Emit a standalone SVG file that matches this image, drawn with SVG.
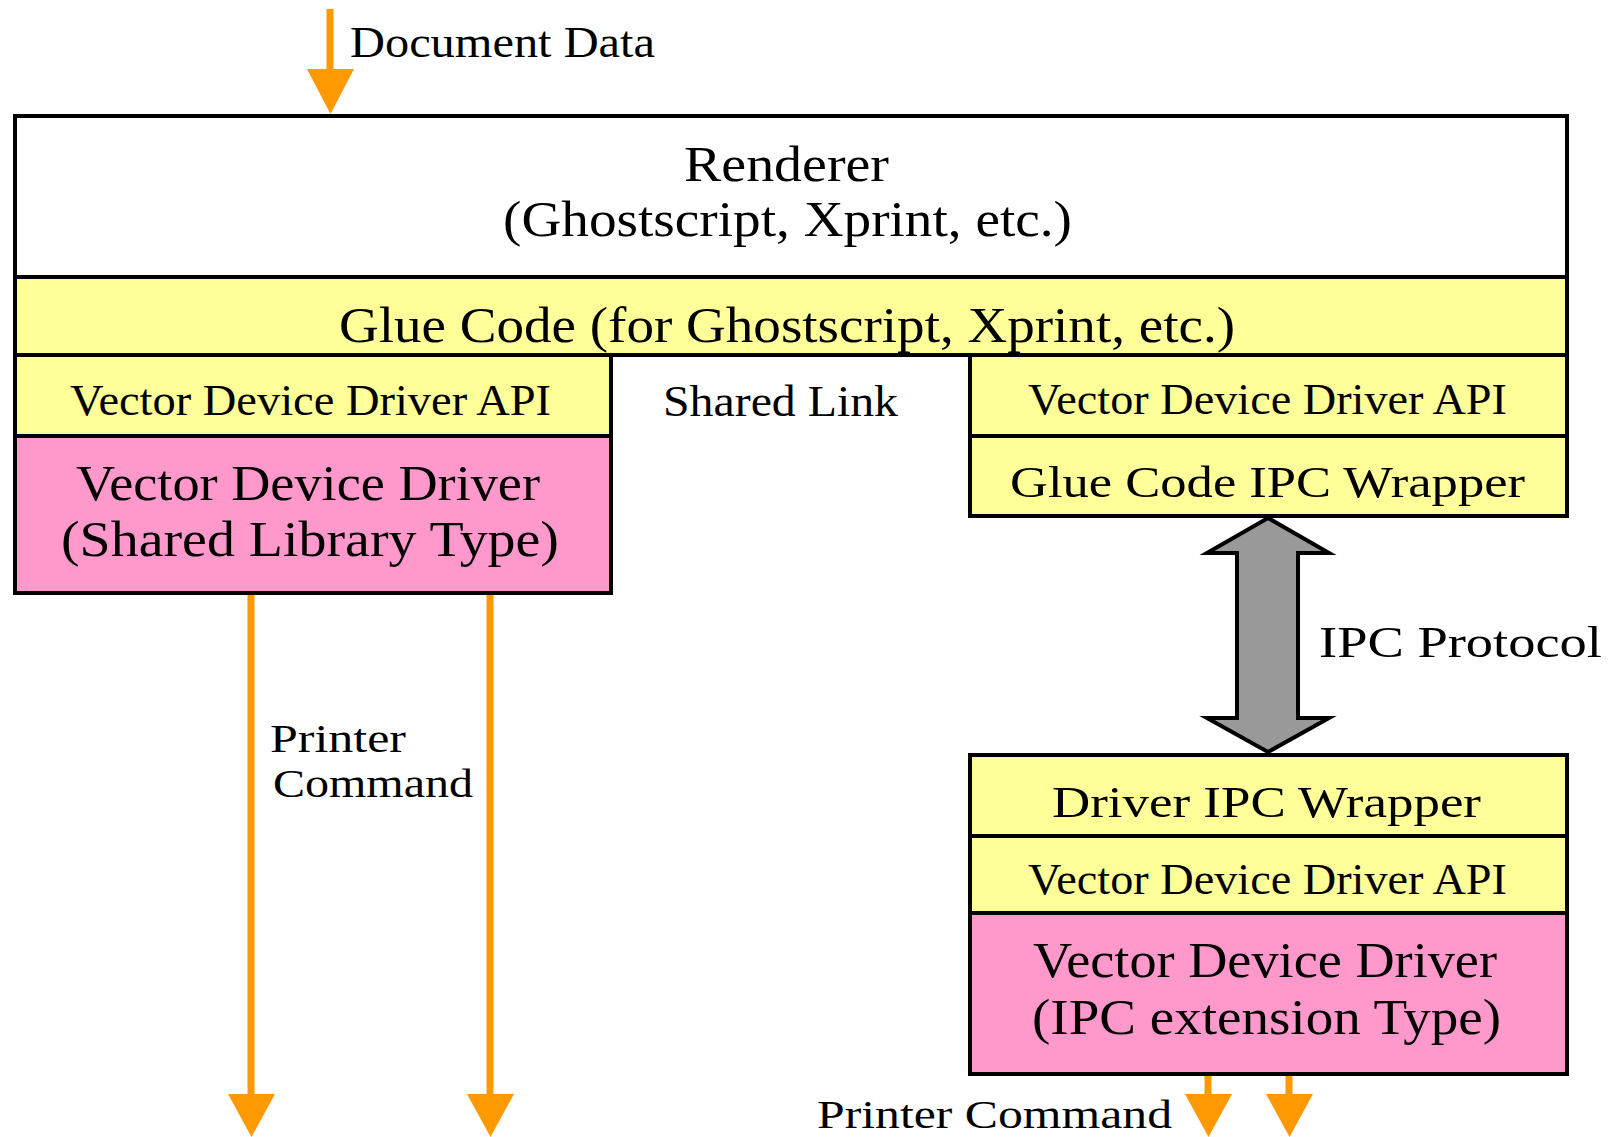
<svg xmlns="http://www.w3.org/2000/svg" width="1608" height="1137" viewBox="0 0 1608 1137">
<defs>
<style>
.box{stroke:#000;stroke-width:4;}
.white{fill:#fff;}
.yellow{fill:#FFFF99;}
.pink{fill:#FF99CC;}
.t{font-family:"Liberation Serif","Times New Roman",serif;fill:#000;}
.big{font-size:50px;}
.mid{font-size:45px;}
.small{font-size:40px;}
.wire{stroke:#FF9900;stroke-width:7;fill:none;}
.head{fill:#FF9900;}
.ipc{fill:#999999;stroke:#000;stroke-width:4;stroke-linejoin:miter;}
</style>
</defs>
<rect x="0" y="0" width="1608" height="1137" fill="#fff"/>

<g id="renderer">
<rect class="box white" x="15" y="116" width="1552" height="161"/>
<text class="t big" x="684" y="181" textLength="205" lengthAdjust="spacingAndGlyphs">Renderer</text>
<text class="t big" x="503" y="236" textLength="569" lengthAdjust="spacingAndGlyphs">(Ghostscript, Xprint, etc.)</text>
</g>

<g id="glue-code">
<rect class="box yellow" x="15" y="277" width="1552" height="78"/>
<text class="t big" x="339" y="342" textLength="896" lengthAdjust="spacingAndGlyphs">Glue Code (for Ghostscript, Xprint, etc.)</text>
</g>

<g id="left-api">
<rect class="box yellow" x="15" y="355" width="596" height="81"/>
<text class="t mid" x="70" y="415" textLength="481" lengthAdjust="spacingAndGlyphs">Vector Device Driver API</text>
</g>

<g id="left-driver">
<rect class="box pink" x="15" y="436" width="596" height="157"/>
<text class="t big" x="76" y="500" textLength="464" lengthAdjust="spacingAndGlyphs">Vector Device Driver</text>
<text class="t big" x="61" y="556" textLength="498" lengthAdjust="spacingAndGlyphs">(Shared Library Type)</text>
</g>

<g id="shared-link">
<text class="t mid" x="663" y="416" textLength="235" lengthAdjust="spacingAndGlyphs">Shared Link</text>
</g>

<g id="right-api">
<rect class="box yellow" x="970" y="355" width="597" height="81"/>
<text class="t mid" x="1028" y="414" textLength="479" lengthAdjust="spacingAndGlyphs">Vector Device Driver API</text>
</g>

<g id="glue-ipc-wrapper">
<rect class="box yellow" x="970" y="436" width="597" height="80"/>
<text class="t mid" x="1010" y="497" textLength="515" lengthAdjust="spacingAndGlyphs">Glue Code IPC Wrapper</text>
</g>

<g id="driver-ipc-wrapper">
<rect class="box yellow" x="970" y="755" width="597" height="81"/>
<text class="t mid" x="1052" y="817" textLength="429" lengthAdjust="spacingAndGlyphs">Driver IPC Wrapper</text>
</g>

<g id="bottom-api">
<rect class="box yellow" x="970" y="836" width="597" height="77"/>
<text class="t mid" x="1028" y="894" textLength="479" lengthAdjust="spacingAndGlyphs">Vector Device Driver API</text>
</g>

<g id="ipc-driver">
<rect class="box pink" x="970" y="913" width="597" height="161"/>
<text class="t big" x="1033" y="977" textLength="464" lengthAdjust="spacingAndGlyphs">Vector Device Driver</text>
<text class="t big" x="1032" y="1034" textLength="469" lengthAdjust="spacingAndGlyphs">(IPC extension Type)</text>
</g>

<g id="connectors">
<!-- Document Data input -->
<line class="wire" x1="330" y1="9" x2="330" y2="72"/>
<polygon class="head" points="307,69 354,69 330.5,114"/>
<text class="t mid" x="350" y="57" textLength="305" lengthAdjust="spacingAndGlyphs">Document Data</text>

<!-- Left printer command outputs -->
<line class="wire" x1="251" y1="595" x2="251" y2="1097"/>
<polygon class="head" points="228,1094 275,1094 251.5,1137"/>
<line class="wire" x1="490" y1="595" x2="490" y2="1097"/>
<polygon class="head" points="467,1094 514,1094 490.5,1137"/>
<text class="t small" x="270" y="752" textLength="136" lengthAdjust="spacingAndGlyphs">Printer</text>
<text class="t small" x="273" y="797" textLength="200" lengthAdjust="spacingAndGlyphs">Command</text>

<!-- IPC protocol -->
<polygon class="ipc" points="1268,518 1329,553 1298,553 1298,718 1329,718 1268,752 1207,718 1237,718 1237,553 1207,553"/>
<text class="t mid" x="1319" y="657" textLength="283" lengthAdjust="spacingAndGlyphs">IPC Protocol</text>

<!-- Right printer command outputs -->
<line class="wire" x1="1208" y1="1076" x2="1208" y2="1097"/>
<polygon class="head" points="1185,1094 1232,1094 1208.5,1137"/>
<line class="wire" x1="1289" y1="1076" x2="1289" y2="1097"/>
<polygon class="head" points="1266,1094 1313,1094 1289.5,1137"/>
<text class="t small" x="817" y="1128" textLength="355" lengthAdjust="spacingAndGlyphs">Printer Command</text>
</g>
</svg>
